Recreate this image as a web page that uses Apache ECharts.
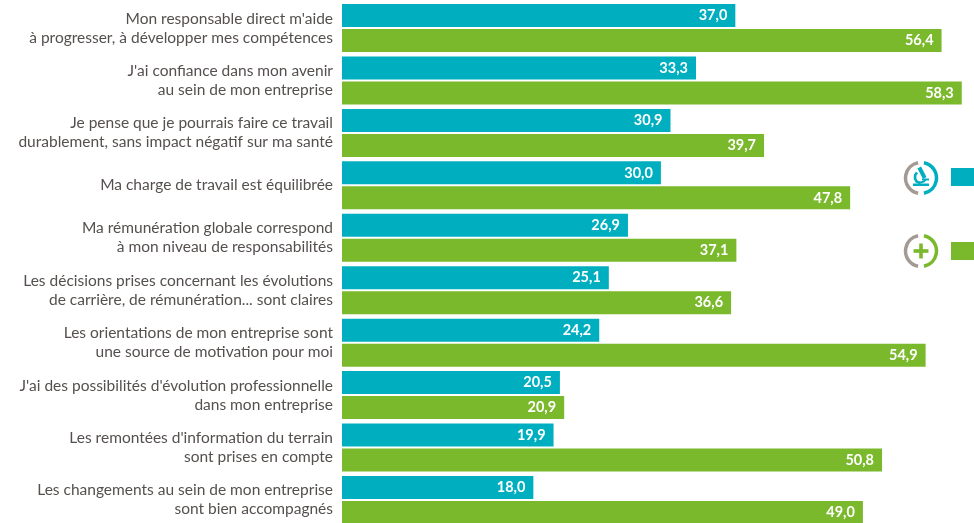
<!DOCTYPE html>
<html><head><meta charset="utf-8">
<style>html,body{margin:0;padding:0;background:#fff}#c{width:974px;height:523px}</style>
<script src="https://cdn.jsdelivr.net/npm/echarts@6/dist/echarts.min.js"></script>
</head><body><div id="c"></div>
<script>
const categories = [
 "Mon responsable direct m'aide\nà progresser, à développer mes compétences",
 "J'ai confiance dans mon avenir\nau sein de mon entreprise",
 "Je pense que je pourrais faire ce travail\ndurablement, sans impact négatif sur ma santé",
 "Ma charge de travail est équilibrée",
 "Ma rémunération globale correspond\nà mon niveau de responsabilités",
 "Les décisions prises concernant les évolutions\nde carrière, de rémunération... sont claires",
 "Les orientations de mon entreprise sont\nune source de motivation pour moi",
 "J'ai des possibilités d'évolution professionnelle\ndans mon entreprise",
 "Les remontées d'information du terrain\nsont prises en compte",
 "Les changements au sein de mon entreprise\nsont bien accompagnés"
];
const recherche = [37.0,33.3,30.9,30.0,26.9,25.1,24.2,20.5,19.9,18.0];
const plus = [56.4,58.3,39.7,47.8,37.1,36.6,54.9,20.9,50.8,49.0];
const TEAL = '#00afbf', GREEN = '#7ab82c', GRAY = '#a39a94';
const fmt = p => p.value.toFixed(1).replace('.', ',');
const lbl = {show:true, position:'insideRight', distance:8, color:'#fff', fontFamily:'Lato', fontSize:14.5, fontWeight:'bold', formatter:fmt};
const arcs = (cy, col) => [
 {type:'arc', shape:{cx:921,cy,r:15.5,startAngle:Math.PI*0.56,endAngle:Math.PI*1.44}, style:{stroke:GRAY,lineWidth:3.5,fill:null}},
 {type:'arc', shape:{cx:921,cy,r:15.5,startAngle:-Math.PI*0.44,endAngle:Math.PI*0.44}, style:{stroke:col,lineWidth:3.5,fill:null}}
];
const chart = echarts.init(document.getElementById('c'));
chart.setOption({
 animation:false,
 grid:{left:342, top:1.8, width:627.2, height:524.4, containLabel:false, outerBoundsMode:'none'},
 legend:{show:true, orient:'vertical', left:951, top:168, itemWidth:23, itemHeight:18, itemGap:56, icon:'rect', padding:0, formatter:()=>'', selectedMode:false, textStyle:{fontSize:1,padding:0}},
 xAxis:{type:'value', min:0, max:59, show:false},
 yAxis:{type:'category', inverse:true, data:categories,
  axisLine:{show:false}, axisTick:{show:false},
  axisLabel:{margin:9, color:'#55504e', fontFamily:'Lato', fontSize:15.5, lineHeight:19, align:'right'}},
 series:[
  {name:'Recherche', type:'bar', data:recherche, barWidth:23, barGap:'8.7%', itemStyle:{color:TEAL}, label:lbl},
  {name:'Plus', type:'bar', data:plus, barWidth:23, itemStyle:{color:GREEN}, label:lbl}
 ],
 graphic:[
  ...arcs(178,TEAL), ...arcs(251,GREEN),
  {type:'rect', shape:{x:913.5,y:249.2,width:15,height:3.6}, style:{fill:GREEN}},
  {type:'rect', shape:{x:919.2,y:243.5,width:3.6,height:15}, style:{fill:GREEN}},
  {type:'polygon', shape:{points:[[917.5,168.5],[921,166.5],[926.5,177],[923,179]]}, style:{fill:TEAL}},
  {type:'rect', shape:{x:913,y:183.5,width:16,height:2.5}, style:{fill:TEAL}},
  {type:'rect', shape:{x:922,y:178.5,width:7,height:2}, style:{fill:TEAL}},
  {type:'polyline', shape:{points:[[917,172.5],[915.2,175],[915,178.5],[916.5,181.5],[920,183]]}, style:{stroke:TEAL,lineWidth:2.6,fill:null}},
  {type:'polyline', shape:{points:[[919,183],[924,181.5],[926,179]]}, style:{stroke:TEAL,lineWidth:2,fill:null}}
 ]
});
</script></body></html>
